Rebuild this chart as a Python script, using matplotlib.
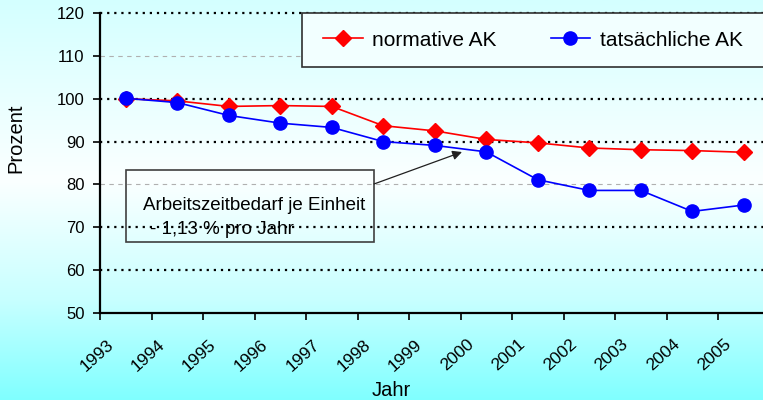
import numpy as np
import matplotlib
import matplotlib.pyplot as plt
from matplotlib.colors import LinearSegmentedColormap
from matplotlib.patches import Rectangle
from matplotlib.transforms import ScaledTranslation

matplotlib.rcParams['font.family'] = ['Liberation Sans', 'DejaVu Sans']

# data
jahre = ['1993', '1994', '1995', '1996', '1997', '1998', '1999',
         '2000', '2001', '2002', '2003', '2004', '2005']
normative_ak = [100.0, 99.5, 98.2, 98.4, 98.2, 93.7, 92.5,
                90.5, 89.7, 88.5, 88.1, 87.9, 87.5]
tatsaechliche_ak = [100.1, 99.1, 96.1, 94.3, 93.3, 90.0, 89.1,
                    87.6, 81.1, 78.6, 78.6, 73.7, 75.2]
y_ticks = [50, 60, 70, 80, 90, 100, 110, 120]

W, H = 763, 400
fig = plt.figure(figsize=(W / 100, H / 100), dpi=100)

# background gradient
bg = fig.add_axes([0, 0, 1, 1], zorder=-10)
cmap = LinearSegmentedColormap.from_list(
    'bg', [(0.0, '#80ffff'), (0.25, '#c8ffff'), (0.55, '#fbffff'), (1.0, '#d4ffff')])
grad = np.linspace(0, 1, 256).reshape(-1, 1)
bg.imshow(grad, aspect='auto', cmap=cmap, origin='lower', extent=[0, 1, 0, 1])
bg.axis('off')

# axes: left 100px, top 13px, bottom 313px, 51.5px per category
ax = fig.add_axes([100 / W, (H - 313) / H, 13 * 51.5 / W, 300 / H])
ax.patch.set_alpha(0)

x = np.arange(len(jahre))
ax.set_xlim(-0.5, len(jahre) - 0.5)
ax.set_ylim(50, 120)

for v in [60, 70, 90, 100, 120]:
    ax.axhline(v, color='black', lw=1.6, ls=(0, (1, 2.2)), zorder=1, clip_on=False)
for v in [80, 110]:
    ax.axhline(v, color='#b0b0b0', lw=0.8, ls=(0, (4, 4)), zorder=1)

ax.plot(x, normative_ak, color='#ff0000', lw=1.2, marker='D', markersize=8,
        label='normative AK', zorder=3)
ax.plot(x, tatsaechliche_ak, color='#0000ff', lw=1.2, marker='o', markersize=9.5,
        label='tatsächliche AK', zorder=4)

for s in ['top', 'right']:
    ax.spines[s].set_visible(False)
for s in ['left', 'bottom']:
    ax.spines[s].set_linewidth(1.6)

ax.set_yticks(y_ticks)
ax.tick_params(axis='y', direction='out', length=5, width=1.2, pad=6, labelsize=12)
ax.set_xticks(x)
ax.set_xticklabels(jahre, rotation=42, ha='right', fontsize=12.5)
ax.tick_params(axis='x', which='major', length=0, pad=17)
ax.set_xticks(np.arange(-0.5, len(jahre)), minor=True)
ax.tick_params(axis='x', which='minor', direction='out', length=5, width=1.2)
off = ScaledTranslation(-7 / 72, 0, fig.dpi_scale_trans)
for lab in ax.get_xticklabels():
    lab.set_transform(lab.get_transform() + off)

# legend frame + legend
ax.add_patch(Rectangle((302 / W, (H - 67) / H), 0.7, 54 / H, transform=fig.transFigure,
                       facecolor='#f2ffff', edgecolor='#303030', lw=1.2, zorder=2,
                       clip_on=False))
leg = fig.legend(loc='center left', bbox_to_anchor=(323 / W, 1 - 40 / H), ncol=2,
                 frameon=False, fontsize=15, handlelength=1.9, columnspacing=2.6,
                 handletextpad=0.45, borderaxespad=0, borderpad=0)

# annotation box
ax.add_patch(Rectangle((126 / W, (H - 242) / H), 248 / W, 72 / H, transform=fig.transFigure,
                       facecolor='none', edgecolor='#404040', lw=1.2, zorder=2))
fig.text(143 / W, 1 - 210 / H, 'Arbeitszeitbedarf je Einheit', fontsize=13.5,
         va='baseline', ha='left')
fig.text(150 / W, 1 - 234 / H, '- 1,13 % pro Jahr', fontsize=13.5,
         va='baseline', ha='left', zorder=0)
ax.annotate('', xy=(462 / W, 1 - 152 / H), xycoords='figure fraction',
            xytext=(374 / W, 1 - 184 / H), textcoords='figure fraction',
            arrowprops=dict(arrowstyle='-|>', color='#202020', lw=0.9,
                            mutation_scale=14, shrinkA=0, shrinkB=0))

fig.text(16 / W, 1 - 138 / H, 'Prozent', rotation=90, fontsize=14.5,
         ha='center', va='center')
fig.text(391 / W, 1 - 390 / H, 'Jahr', fontsize=14.5, ha='center', va='center')

fig.savefig('out.png', dpi=100)
